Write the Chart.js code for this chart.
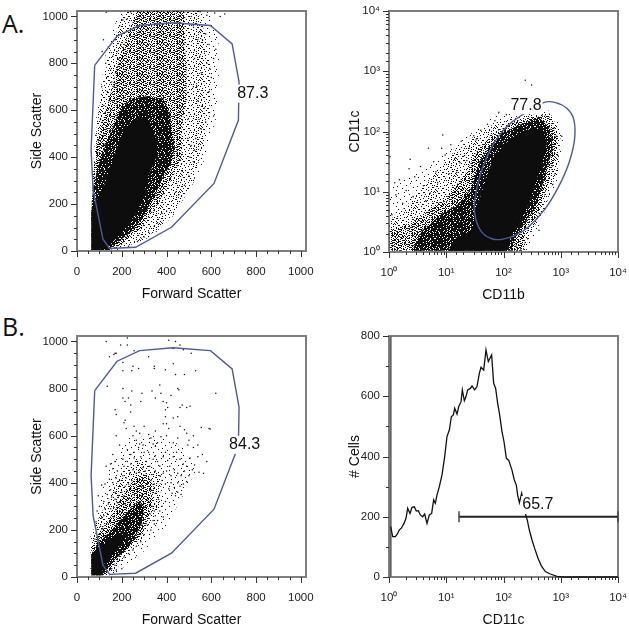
<!DOCTYPE html>
<html>
<head>
<meta charset="utf-8">
<style>
    html, body { margin: 0; padding: 0; background: #fff; }
    body { position: relative; width: 629px; height: 628px; overflow: hidden; }
    canvas { position: absolute; }
    .tag { position: absolute; font: 25px "Open Sans", sans-serif; color: #111; }
</style>
<script src="https://cdn.jsdelivr.net/npm/chart.js@4"></script>
</head>
<body>
<div class="tag" style="left:2px;top:6px">A.</div>
<div class="tag" style="left:2px;top:309px">B.</div>
<canvas id="scatterA"></canvas>
<canvas id="markerA"></canvas>
<canvas id="scatterB"></canvas>
<canvas id="histB"></canvas>
<script>
// Scatter gate, same one on both forward/side scatter plots
const gateX = [79, 179, 280, 429, 596, 693, 724, 721, 612, 422, 262, 146, 116, 72, 63, 79];
const gateY = [791, 916, 961, 973, 961, 883, 720, 557, 288, 101, 16, 11, 50, 260, 430, 791];

// Panel A, forward / side scatter: density regions
const coreA = [[64,4],[64,174],[101,238],[131,302],[161,387],[191,472],[218,522],[250,557],[310,571],[332,529],[355,472],[355,401],[317,316],[295,231],[273,174],[228,111],[176,54],[131,11],[116,4]];
const heavyA = [[64,4],[64,174],[72,274],[94,359],[124,444],[161,530],[198,610],[243,650],[310,660],[384,650],[414,590],[422,529],[437,444],[422,373],[384,316],[340,217],[295,146],[243,82],[176,33],[139,4]];
const midA = [[64,4],[64,160],[72,330],[86,444],[116,557],[161,713],[191,827],[228,926],[270,1023],[480,1023],[481,884],[489,770],[489,643],[466,529],[466,401],[429,316],[355,189],[280,91],[191,26],[150,4]];
const lightA = [[64,4],[76,300],[90,560],[140,830],[200,1000],[220,1023],[540,1023],[580,900],[600,750],[590,560],[560,440],[520,290],[430,150],[330,60],[180,4]];
const sparseA = [[66,250],[85,560],[130,850],[190,1023],[600,1023],[640,850],[620,560],[560,360],[480,240],[360,90],[230,20],[64,4]];
const dotsA = [[85,300],[92,345],[100,420],[108,380],[118,490],[125,455],[132,520],[140,560],[145,510],[150,600],[158,640],[120,620],[105,560],[95,470],[135,680],[165,700],[172,760],[150,770],[128,800],[182,820],[195,880],[170,900],[140,870],[118,900],[112,850],[210,930],[190,960],[225,990],[240,1020],[130,1018],[88,420],[112,450],[126,590],[143,640],[155,720],[178,850],[205,985],[160,830],[132,740],[110,700],
    [500,320],[520,380],[510,450],[530,480],[555,520],[575,550],[610,575],[495,560],[540,640],[560,620],[590,680],[600,740],[580,800],[570,850],[590,880],[610,820],[620,860],[540,900],[555,940],[520,960],[600,960],[640,1000],[660,1010],[580,1005],[550,1020],[480,280],[455,240],[400,170],[360,120],[320,80],[505,400],[525,430],[545,560],[570,610],[535,700],[555,760],[525,820],[560,900],[510,1000],[495,480],[470,340],[440,250],[380,160],[345,105],[300,60],[270,40],[230,20],[520,700],[548,830],[595,775],[575,925],[530,1012],[615,1015]];

// Panel A, CD11b / CD11c: log10 of the values, the way the picture is laid out
const coreMarker = [[1.04,0.02],[1.16,0.22],[1.45,0.36],[1.54,0.75],[1.65,1.08],[1.80,1.52],[2.03,1.80],[2.27,1.97],[2.50,2.05],[2.70,1.99],[2.76,1.80],[2.67,1.47],[2.56,1.14],[2.44,0.80],[2.27,0.47],[2.15,0.31],[2.06,0.02]];
const heavyMarker = [[0.40,0.02],[0.58,0.36],[0.93,0.64],[1.22,0.80],[1.45,1.08],[1.57,1.47],[1.74,1.74],[1.97,1.97],[2.32,2.13],[2.61,2.24],[2.82,2.05],[2.86,1.74],[2.79,1.47],[2.67,1.08],[2.53,0.69],[2.32,0.41],[2.18,0.19],[2.15,0.02]];
const midMarker = [[0.01,0.02],[0.01,0.35],[0.4,0.5],[0.7,0.7],[1.01,0.91],[1.33,1.30],[1.57,1.74],[1.86,1.99],[2.32,2.21],[2.79,2.27],[2.93,1.91],[2.90,1.58],[2.76,1.08],[2.61,0.64],[2.38,0.30],[2.35,0.02]];
const lightMarker = [[0.01,0.02],[0.01,0.53],[0.29,0.75],[0.69,1.19],[1.16,1.69],[1.63,2.02],[1.97,2.19],[2.44,2.27],[2.82,2.30],[3.00,1.94],[2.95,1.40],[2.75,0.80],[2.49,0.33],[2.38,0.02]];
const sparseMarker = [[0.01,0.5],[0.01,1.1],[0.6,1.35],[1.2,1.8],[1.9,2.3],[2.85,2.35],[3.05,1.95],[2.95,1.2],[2.6,0.4],[2.4,0.02],[0.01,0.02]];
const dotsMarker = [[2.38,2.85],[2.49,2.77],[1.92,2.32],[0.94,1.94],[0.69,1.72],[0.37,1.54],[0.02,1.58],[0.45,1.25],[0.55,1.42],[0.78,1.50],[0.82,1.33],[0.98,1.61],[1.08,1.78],[1.15,1.55],[1.26,1.84],[1.32,1.60],[0.30,1.02],[0.18,1.20],[0.60,1.10],[0.72,0.98],[0.12,0.95],[0.05,0.62],[0.24,0.81],[0.42,0.92],[0.85,1.15],[1.05,1.30],[1.18,1.32],[1.40,1.72],[1.48,1.93],[1.60,2.02],[1.72,2.12],[1.85,2.18],[2.05,2.28],[2.20,2.33],[2.44,2.30],[2.58,2.36],[2.68,2.28],[2.92,1.92],[2.88,2.06],[3.02,1.92],[2.95,1.60],[2.90,1.30],[2.86,1.12],[2.62,0.36],[2.42,0.22],[2.30,0.05],[2.22,0.10],[0.35,1.38],[0.92,1.72],[1.24,1.48],[0.64,0.85],[0.10,1.15],[1.36,1.52],[1.52,1.86]];

// Panel B, forward / side scatter
const coreB = [[64,7],[64,90],[100,125],[150,160],[195,190],[215,165],[165,105],[125,60],[108,7]];
const heavyB = [[64,7],[64,100],[100,150],[150,195],[210,260],[270,320],[300,300],[290,230],[250,150],[200,100],[155,60],[125,20],[115,7]];
const midB = [[64,7],[64,125],[101,190],[160,270],[210,350],[260,420],[310,440],[345,380],[335,280],[290,180],[220,110],[165,55],[135,7]];
const lightB = [[60,7],[60,172],[101,257],[161,370],[206,455],[280,500],[375,440],[370,300],[290,158],[206,80],[161,7]];
const sparseB = [[70,180],[100,330],[150,480],[220,590],[340,600],[480,560],[530,450],[470,340],[400,220],[300,110],[180,20],[64,7]];
const dotsB = [[130,1000],[225,1015],[195,985],[175,950],[205,910],[225,985],[145,935],[170,950],[165,945],[250,895],[255,960],[275,885],[205,875],[245,875],[320,935],[345,895],[345,885],[395,880],[430,905],[440,860],[480,860],[530,875],[410,1005],[440,1000],[460,985],[475,965],[510,950],[430,970],[135,810],[205,800],[205,760],[215,745],[230,760],[240,730],[245,790],[290,780],[285,745],[335,790],[350,760],[370,815],[375,780],[385,745],[395,710],[395,680],[400,740],[405,720],[420,770],[450,800],[455,795],[620,780],[170,710],[175,690],[215,665],[210,655],[220,630],[240,700],[255,640],[265,620],[280,610],[300,640],[320,605],[330,590],[350,620],[385,650],[400,650],[410,630],[430,675],[460,720],[470,730],[490,720],[505,725],[450,680],[460,640],[480,625],[490,610],[500,580],[520,600],[555,635],[590,630],[595,628],[540,560],[520,550],[495,560],[450,590],[430,570],[400,600],[375,595],[360,570],[350,555],[340,565],[320,530],[295,560],[280,565],[275,550],[265,580],[250,600],[255,530],[240,520],[225,540],[205,500],[190,560],[175,600],[160,520],[170,490],[150,480],[130,470],[160,460],[180,450],[210,470],[225,490],[240,480],[255,505],[270,490],[285,510],[300,530],[310,490],[325,470],[340,500],[350,515],[360,490],[370,470],[385,510],[395,530],[405,495],[415,470],[430,510],[445,530],[460,500],[475,480],[490,470],[505,505],[480,450],[465,430],[450,440],[435,455],[420,430],[400,450],[385,440],[370,430],[350,450],[335,435],[320,420],[305,450],[295,465],[280,445],[265,440],[250,455],[235,440],[220,420],[205,430],[190,410],[175,420],[160,400],[145,415],[125,395],[110,390],[95,345],[90,280],[85,235],[100,300],[120,320],[135,350],[150,370],[170,360],[190,385],[420,400],[435,380],[450,400],[465,350],[440,345],[425,355],[410,375],[395,395],[380,410],[360,405],[345,395],[330,410],[315,395],[300,410],[290,385],[275,405],[260,395],[245,410],[230,395],[215,385],[200,360],[185,345],[170,330],[155,340],[140,310],[125,290],[110,250],[105,215],[120,260],[135,270],[150,290],[165,295],[180,315],[195,325],[210,345],[225,365],[240,375],[330,370],[350,355],[365,330],[380,300],[370,280],[395,320],[385,255],[360,240],[345,225],[330,200],[315,220],[300,180],[285,150],[265,130],[250,115],[230,100],[210,85],[190,70],[170,50],[155,35],[175,30],[200,35],[125,40],[105,30],[95,170],[85,185],[80,160],[115,205],[140,225],[165,255],[190,280],[215,310],[235,335],[255,350],[270,365],[290,345],[310,355],[320,320],[335,300],[345,280],[355,300],[350,260],[340,240],[325,270],[305,300],[290,225],[275,200],[260,165],[240,145],[545,445],[580,490],[565,440],[560,520],[540,510],[525,475],[515,455],[500,430],[490,405],[475,395],[460,385],[450,360]];

// Panel B, CD11c histogram
const histLogX = [0.03,0.064,0.111,0.146,0.18,0.215,0.262,0.297,0.326,0.367,0.402,0.443,0.477,0.512,0.547,0.588,0.623,0.664,0.705,0.745,0.78,0.809,0.838,0.879,0.926,0.972,1.013,1.054,1.089,1.124,1.147,1.188,1.217,1.258,1.281,1.316,1.345,1.374,1.421,1.45,1.496,1.537,1.578,1.607,1.654,1.694,1.735,1.764,1.793,1.828,1.863,1.898,1.933,1.974,2.009,2.05,2.09,2.148,2.189,2.224,2.247,2.277,2.317,2.393,2.416,2.451,2.498,2.544,2.603,2.661,2.731,2.818,2.934,3.022,4.0];
const histCells = [167,134,134,143,156,162,178,195,228,211,231,233,219,220,206,200,209,178,206,211,256,245,272,300,339,399,466,488,532,538,560,541,565,582,621,585,599,621,626,634,621,632,676,696,687,754,715,726,737,643,626,576,538,482,449,394,388,355,322,305,272,247,278,202,189,156,123,95,62,37,18,10,2,0,0];

// Gates on the log plots
const gateMarker = [[2.32,2.27],[2.15,2.16],[1.97,1.99],[1.80,1.75],[1.65,1.44],[1.54,1.08],[1.49,0.75],[1.52,0.53],[1.62,0.33],[1.80,0.22],[1.97,0.21],[2.21,0.28],[2.44,0.42],[2.73,0.72],[2.96,1.08],[3.14,1.47],[3.24,1.86],[3.23,2.19],[3.11,2.38],[2.91,2.48],[2.70,2.48],[2.32,2.27]];
const histGateLogX = [1.223, 4];
const histGateCells = [200, 200];

const GATE_COLOR = '#4d5b96';

// Speckle tiles for the dense parts of the clouds
const tileHeavy = [
    '##.####.###.##.#####', '#.###.#####.#.###.##', '###.####.#.####.####', '.#####.####.####.#.#',
    '##.##.###.#####.####', '####.#####.#.##.##.#', '#.####.##.####.#####', '###.####.###.####.##',
    '.###.#.####.##.###.#', '####.####.#####.####', '##.###.###.#.#####.#', '#####.###.####.#.###',
    '#.#.#####.##.#####.#', '####.##.####.###.###', '.#####.####.###.###.', '###.####.#.####.####'];
const tileMid = [
    '#..#...##..#.#...#.#', '.#...#....#...#.#...', '..##...#.#...#...#.#', '#....#...##....#.#..',
    '.#.#...#....#.#....#', '...#.##...#...#.##..', '#.....#.#...#....#.#', '.##.#.....#...##....',
    '...#..#.#...#....#.#', '#.#.....##.#..#.#...', '....#.#....#.....#.#', '.#.#...#.#...##.#...',
    '#...#.....#.#....#.#', '..#..##.#.....#.#...', '.#.....#..#.#.#...#.', '#..#.#....#.....#..#'];
const tileLight = [
    '#.......#.........#.', '....#.........#.....', '..........#.......#.', '.#....#.........#...',
    '...........#.#......', '....#.............#.', '#.......#....#......', '.....#..........#...',
    '..#.........#.......', '.........#.......#.#', '.#...#..............', '.............#...#..',
    '...#....#...........', '#..........#....#...', '......#.............', '..#.............#..#'];
const tileSparse = [
    '.........#..........', '...#................', '..............#.....', '....................',
    '.#.......#..........', '................#...', '....................', '.....#.........#....',
    '....................', '...........#........', '..#.................', '..................#.',
    '.......#............', '....................', '.#...........#......', '....................'];

const makePattern = (rows) => {
    const tile = document.createElement('canvas');
    tile.width = rows[0].length;
    tile.height = rows.length;
    const ctx = tile.getContext('2d');
    rows.forEach((row, y) => {
        [...row].forEach((c, x) => {
            if (c === '#') {
                ctx.fillStyle = '#111';
                ctx.fillRect(x, y, 1, 1);
            }
        });
    });
    return ctx.createPattern(tile, 'repeat');
};

const patternHeavy = makePattern(tileHeavy);
const patternMid = makePattern(tileMid);
const patternLight = makePattern(tileLight);
const patternSparse = makePattern(tileSparse);

const isPowerOfTen = (v) => Math.abs(Math.log10(v) - Math.round(Math.log10(v))) < 1e-6;
const SUPERS = ['⁰', '¹', '²', '³', '⁴'];

const fromLog = (pairs) => pairs.map(p => ({ x: 10 ** p[0], y: 10 ** p[1] }));
const fromPairs = (pairs) => pairs.map(p => ({ x: p[0], y: p[1] }));

const region = (data, fill) => ({
    data, showLine: true, fill: 'shape', backgroundColor: fill,
    borderWidth: 0, borderColor: 'transparent', pointRadius: 0
});
const dots = (data) => ({
    data, showLine: false, pointRadius: 0.75, pointStyle: 'circle',
    pointBackgroundColor: '#111', pointBorderWidth: 0
});
const gate = (data, tension) => ({
    data, showLine: true, fill: false, borderColor: GATE_COLOR, borderWidth: 1.4,
    pointRadius: 0, tension: tension || 0
});

// Frame, ticks and the gate label
const flowPlugin = {
    id: 'flowPlot',
    beforeDatasetsDraw: (chart) => {
        const { ctx, chartArea } = chart;
        const { left, right, top, bottom } = chartArea;
        ctx.save();
        ctx.strokeStyle = '#7f7f7f';
        ctx.lineWidth = 2;
        ctx.strokeRect(left, top, right - left, bottom - top);
        ctx.restore();
    },
    afterDatasetsDraw: (chart, args, opts) => {
        const { ctx, scales } = chart;
        const { text, x, y } = opts;
        ctx.save();
        ctx.font = '16px "Liberation Sans", Arial, sans-serif';
        const w = ctx.measureText(text).width;
        const px = scales.x.getPixelForValue(x);
        const py = scales.y.getPixelForValue(y);
        ctx.fillStyle = '#fff';
        ctx.fillRect(px - w / 2 - 1, py - 9, w + 2, 18);
        ctx.fillStyle = '#111';
        ctx.textAlign = 'center';
        ctx.textBaseline = 'middle';
        ctx.fillText(text, px, py);
        ctx.restore();
    },
    afterDraw: (chart) => {
        const { ctx, chartArea, scales } = chart;
        const { left, bottom } = chartArea;
        ctx.save();
        ctx.strokeStyle = '#333';
        ctx.lineWidth = 1;
        scales.x.ticks.forEach((t, i) => {
            const p = Math.round(scales.x.getPixelForTick(i)) + 0.5;
            const len = t.label ? 6 : 3;
            ctx.beginPath();
            ctx.moveTo(p, bottom);
            ctx.lineTo(p, bottom + len);
            ctx.stroke();
        });
        scales.y.ticks.forEach((t, i) => {
            const p = Math.round(scales.y.getPixelForTick(i)) + 0.5;
            const len = t.label ? 6 : 3;
            ctx.beginPath();
            ctx.moveTo(left, p);
            ctx.lineTo(left - len, p);
            ctx.stroke();
        });
        ctx.restore();
    }
};

const linearAxis = (step, labelEvery, max, title) => ({
    type: 'linear', min: 0, max,
    grid: { display: false, drawTicks: false },
    border: { display: false },
    title: { display: true, text: title, font: { size: 14, family: '"Liberation Sans"' }, color: '#111', padding: 0 },
    ticks: {
        stepSize: step, includeBounds: false, autoSkip: false, maxRotation: 0, minRotation: 0, padding: 9, color: '#222',
        font: { size: 11.5, family: '"Liberation Sans"' },
        callback: (v) => (v % labelEvery === 0 ? String(v) : '')
    }
});

const logAxis = (title) => ({
    type: 'logarithmic', min: 1, max: 10000,
    grid: { display: false, drawTicks: false },
    border: { display: false },
    title: { display: true, text: title, font: { size: 14, family: '"Liberation Sans"' }, color: '#111', padding: 0 },
    ticks: {
        autoSkip: false, maxRotation: 0, minRotation: 0, padding: 9, color: '#222',
        font: { size: 11.5, family: '"Liberation Sans"' },
        callback: (v) => (isPowerOfTen(v) ? '10' + SUPERS[Math.round(Math.log10(v))] : '')
    }
});

// box: canvas rect, area: plot rect inside the canvas, in page pixels
const makePlot = (id, box, area, xAxis, yAxis, datasets, label) => {
    const canvas = document.getElementById(id);
    canvas.width = box.w;
    canvas.height = box.h;
    canvas.style.left = box.x + 'px';
    canvas.style.top = box.y + 'px';
    const padLeft = area.titleX - box.x;
    const xHeight = 52;
    // labels may stick out of the plot box, that must not shrink it
    xAxis.afterFit = (s) => { s.height = xHeight; s.paddingLeft = 0; s.paddingRight = 0; };
    yAxis.afterFit = (s) => { s.width = area.left - area.titleX; s.paddingTop = 0; s.paddingBottom = 0; };
    xAxis.ticks.padding = 14;
    return new Chart(canvas, {
        type: 'scatter',
        data: { datasets },
        plugins: [flowPlugin],
        options: {
            responsive: false,
            animation: false,
            layout: {
                padding: {
                    left: padLeft,
                    top: area.top - box.y,
                    right: box.x + box.w - area.right,
                    bottom: box.y + box.h - area.bottom - xHeight
                }
            },
            scales: { x: xAxis, y: yAxis },
            plugins: { legend: { display: false }, tooltip: { enabled: false }, flowPlot: label }
        }
    });
};

const gatePoints = gateX.map((x, i) => ({ x, y: gateY[i] }));

makePlot('scatterA', { x: 0, y: 0, w: 335, h: 310 }, { left: 77, right: 306, top: 11, bottom: 251, titleX: 29 },
    linearAxis(50, 200, 1023, 'Forward Scatter'), linearAxis(50, 200, 1023, 'Side Scatter'),
    [gate(gatePoints), dots(fromPairs(dotsA)), region(fromPairs(coreA), '#0d0d0d'),
     region(fromPairs(heavyA), patternHeavy), region(fromPairs(midA), patternMid),
     region(fromPairs(lightA), patternLight), region(fromPairs(sparseA), patternSparse)],
    { text: '87.3', x: 785, y: 671 });

makePlot('markerA', { x: 335, y: 0, w: 294, h: 310 }, { left: 389, right: 618, top: 11, bottom: 252, titleX: 347 },
    logAxis('CD11b'), logAxis('CD11c'),
    [gate(fromLog(gateMarker), 0.3), dots(fromLog(dotsMarker)), region(fromLog(coreMarker), '#0d0d0d'),
     region(fromLog(heavyMarker), patternHeavy), region(fromLog(midMarker), patternMid),
     region(fromLog(lightMarker), patternLight), region(fromLog(sparseMarker), patternSparse)],
    { text: '77.8', x: 10 ** 2.393, y: 10 ** 2.438 });

makePlot('scatterB', { x: 0, y: 310, w: 335, h: 318 }, { left: 77, right: 306, top: 336, bottom: 577, titleX: 29 },
    linearAxis(50, 200, 1023, 'Forward Scatter'), linearAxis(50, 200, 1023, 'Side Scatter'),
    [gate(gatePoints), dots(fromPairs(dotsB)), region(fromPairs(coreB), '#0d0d0d'),
     region(fromPairs(heavyB), patternHeavy), region(fromPairs(midB), patternMid),
     region(fromPairs(lightB), patternLight), region(fromPairs(sparseB), patternSparse)],
    { text: '84.3', x: 749, y: 561 });

makePlot('histB', { x: 335, y: 310, w: 294, h: 318 }, { left: 389, right: 618, top: 336, bottom: 577, titleX: 347 },
    logAxis('CD11c'), linearAxis(100, 200, 800, '# Cells'),
    [
        { data: histLogX.map((e, i) => ({ x: 10 ** e, y: histCells[i] })), showLine: true, fill: false, clip: false, borderColor: '#111', borderWidth: 1.3, pointRadius: 0 },
        { data: histGateLogX.map((e, i) => ({ x: 10 ** e, y: histGateCells[i] })), showLine: true, fill: false, clip: false, borderColor: '#222', borderWidth: 2, pointRadius: 5.5, pointStyle: 'line', rotation: 90, pointBorderColor: '#444', pointBorderWidth: 1.5 },
        { data: [{ x: 1.07, y: 0 }, { x: 1.07, y: 800 }], showLine: true, fill: false, borderColor: '#666', borderWidth: 2, pointRadius: 0 }
    ],
    { text: '65.7', x: 10 ** 2.6, y: 239 });
</script>
</body>
</html>
